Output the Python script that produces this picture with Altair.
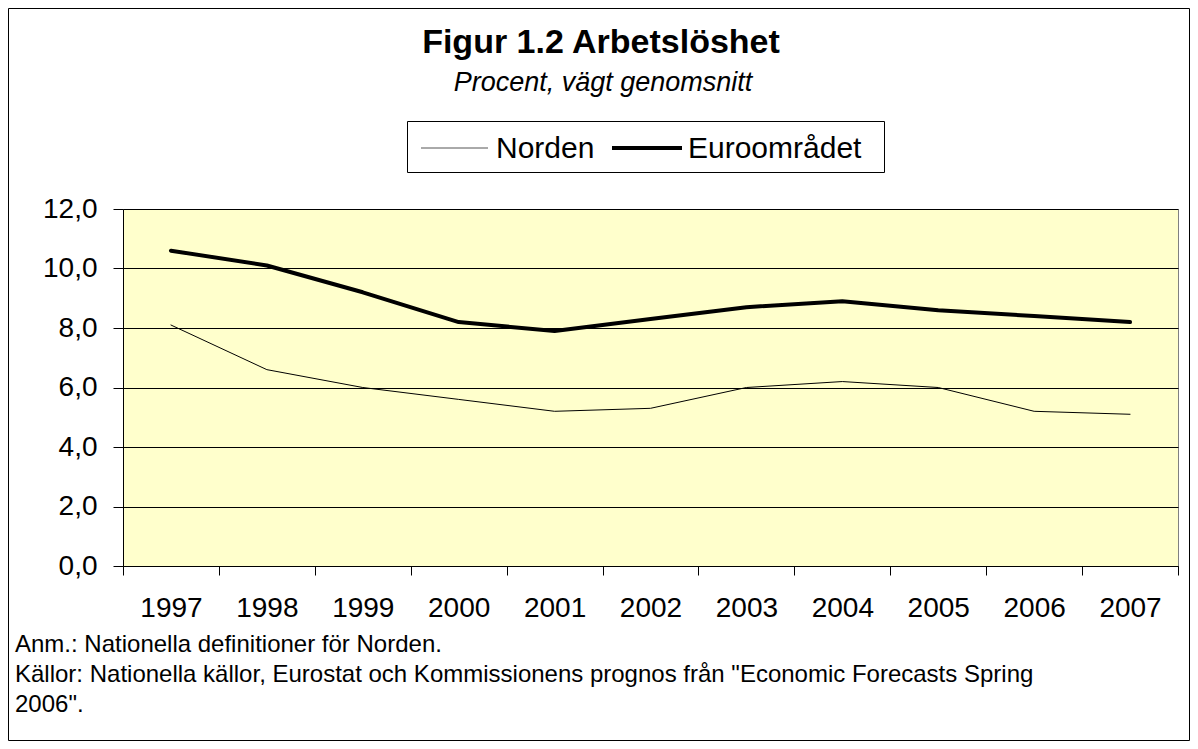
import altair as alt
import pandas as pd

years = ["1997", "1998", "1999", "2000", "2001", "2002", "2003", "2004", "2005", "2006", "2007"]
norden = [8.1, 6.6, 6.0, 5.6, 5.2, 5.3, 6.0, 6.2, 6.0, 5.2, 5.1]
euro = [10.6, 10.1, 9.2, 8.2, 7.9, 8.3, 8.7, 8.9, 8.6, 8.4, 8.2]
series_names = ["Norden", "Euroområdet"]
series_widths = [1, 4]
y_ticks = [0, 2, 4, 6, 8, 10, 12]

title_text = "Figur 1.2 Arbetslöshet"
subtitle_text = "Procent, vägt genomsnitt"
note1 = "Anm.: Nationella definitioner för Norden."
note2 = 'Källor: Nationella källor, Eurostat och Kommissionens prognos från "Economic Forecasts Spring'
note3 = '2006".'

FONT = "Liberation Sans"
W, H = 1055, 357

df = pd.DataFrame({
    "year": years * 2,
    "value": norden + euro,
    "serie": [series_names[0]] * len(years) + [series_names[1]] * len(years),
})

lines = alt.Chart(df).mark_line(color="black", strokeCap="round", strokeJoin="round").encode(
    x=alt.X("year:O", sort=years, bandPosition=0.5,
            scale=alt.Scale(type="band", paddingInner=0, paddingOuter=0),
            axis=alt.Axis(title=None, tickBand="extent", labelAngle=0, labelFontSize=28,
                          labelFont=FONT, labelColor="black", tickSize=9, labelPadding=19,
                          tickColor="black", domainColor="black", grid=False)),
    y=alt.Y("value:Q", scale=alt.Scale(domain=[0, 12], nice=False, zero=True),
            axis=alt.Axis(title=None, values=y_ticks, grid=True, gridColor="black",
                          gridWidth=1, tickSize=10, labelPadding=16, labelFontSize=28,
                          labelFont=FONT, labelColor="black", tickColor="black",
                          domainColor="black",
                          labelExpr="replace(format(datum.value, '.1f'), '.', ',')")),
    strokeWidth=alt.StrokeWidth("serie:N",
        scale=alt.Scale(domain=series_names, range=series_widths), legend=None),
    detail="serie:N",
)

def text_layer(txt, x, y, size, weight="normal", style="normal", align="left"):
    return alt.Chart(pd.DataFrame({"t": [txt]})).mark_text(
        font=FONT, fontSize=size, fontWeight=weight, fontStyle=style, align=align,
        baseline="alphabetic", color="black"
    ).encode(text="t:N", x=alt.value(x), y=alt.value(y))

def rule_layer(x1, x2, y, width, color):
    return alt.Chart(pd.DataFrame({"a": [0]})).mark_rule(
        color=color, strokeWidth=width, strokeCap="butt"
    ).encode(x=alt.value(x1), x2=alt.value(x2), y=alt.value(y))

title = text_layer(title_text, 478, -156, 34, weight="bold", align="center")
subtitle = text_layer(subtitle_text, 480, -118, 27, style="italic", align="center")
n1 = text_layer(note1, -108, 651.7 - 209, 24)
n2 = text_layer(note2, -108, 681.7 - 209, 24)
n3 = text_layer(note3, -108, 711.7 - 209, 24)

# legend (manual, boxed)
legend_box = alt.Chart(pd.DataFrame({"a": [0]})).mark_rect(
    fill="white", stroke="black", strokeWidth=1
).encode(x=alt.value(284.5), x2=alt.value(761.5), y=alt.value(-87.5), y2=alt.value(-36.5))
leg_l1 = rule_layer(298, 365, -61, series_widths[0], "#555555")
leg_t1 = text_layer(series_names[0], 373, -51, 30)
leg_l2 = rule_layer(489, 559, -61, series_widths[1], "black")
leg_t2 = text_layer(series_names[1], 565, -51, 30)

frame = alt.Chart(pd.DataFrame({"a": [0]})).mark_rect(
    fillOpacity=0, stroke="black", strokeWidth=1
).encode(x=alt.value(-114.5), x2=alt.value(W + 11.5), y=alt.value(-200.5), y2=alt.value(H + 174.5))

chart = alt.layer(lines, title, subtitle, n1, n2, n3,
                  legend_box, leg_l1, leg_t1, leg_l2, leg_t2, frame).properties(
    width=W, height=H,
    autosize=alt.AutoSizeParams(type="none"),
    padding={"left": 115, "top": 201, "right": 12, "bottom": 175},
    background="white",
).configure_view(fill="#FFFFCC", stroke="#808080", strokeWidth=1)

chart.save("out.html", embed_options={"renderer": "svg", "actions": False})
